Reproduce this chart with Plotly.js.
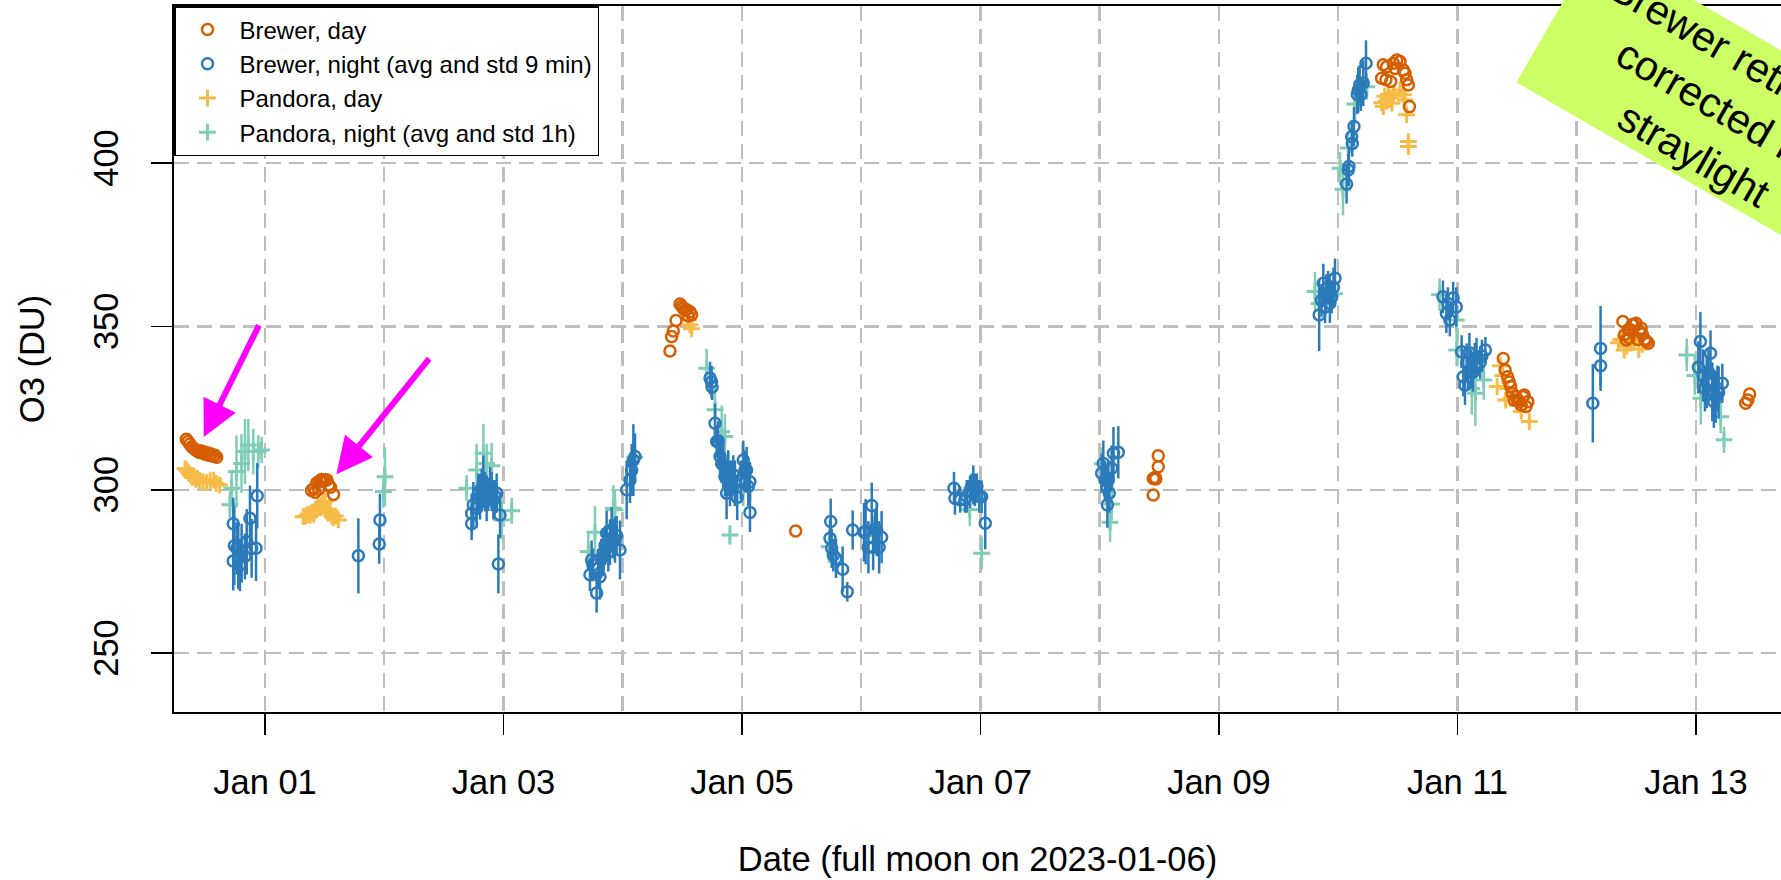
<!DOCTYPE html>
<html>
<head>
<meta charset="utf-8">
<script src="https://cdn.plot.ly/plotly-3.0.1.min.js"></script>
<style>
html,body{margin:0;padding:0;background:#fff;overflow:hidden;}
#chart{width:1781px;height:880px;}
</style>
</head>
<body>
<div id="chart"></div>
<script>
// Time is given in days since 2023-01-01 00:00 UTC
const brewerDayT = [
-0.66,-0.645,-0.63,-0.615,-0.60,-0.585,-0.57,-0.555,-0.54,-0.525,-0.51,-0.495,-0.48,-0.465,-0.45,-0.435,-0.42,-0.405,
0.39,0.41,0.42,0.435,0.45,0.46,0.475,0.49,0.505,0.52,0.535,0.55,0.575,
3.396,3.41,3.424,3.447,3.48,3.495,3.508,3.522,3.536,3.55,3.564,3.578,
4.45,
7.449,7.449,7.465,7.47,7.491,7.491,
9.364,9.378,9.40,9.406,9.44,9.462,9.476,9.49,9.518,9.546,9.56,9.574,9.588,9.597,
10.384,10.40,10.42,10.435,10.446,10.46,10.475,10.49,10.505,10.52,10.535,10.55,10.56,10.575,10.59,
11.387,11.40,11.416,11.43,11.44,11.45,11.465,11.48,11.497,11.51,11.525,11.54,11.55,11.57,11.585,11.6,
12.417,12.435,12.45];
const brewerDayO3 = [
315.5,314.8,314,313.2,312.8,312.3,312,311.5,312,311.2,311.6,310.8,311.3,310.5,311,310.3,310.6,310,
299.8,300.5,299.3,302.2,300.2,302.8,303.2,302.6,303.1,303,301.5,300.8,298.6,
342.5,346.9,348.6,351.8,356.9,356.2,355.6,355,355.1,353.2,354.5,353.6,
287.4,
298.4,303.5,303.8,303.3,307.1,310.4,
426,430.1,425.5,429.5,425,430.6,429,431.6,431.1,428.5,427.5,425.5,423.9,417.3,
340.2,336.7,334.6,333,331.6,329.6,327.5,328.5,327.5,327,326,328.5,329,325.5,327,
351.5,347.5,345.9,349,346.5,349,350.5,350.5,351,346,348.6,349.5,347.7,346,345.5,344.9,
326.5,327.5,329.3];

const brewerNightT = [
-0.266,-0.257,-0.266,-0.237,-0.224,-0.21,-0.196,-0.168,-0.153,-0.126,-0.112,-0.075,-0.065,
0.783,0.958,0.964,
1.733,1.733,1.747,1.775,1.789,1.803,1.817,1.831,1.845,1.859,1.873,1.887,1.901,1.915,1.929,1.943,1.971,1.957,
2.725,2.739,2.75,2.781,2.795,2.809,2.82,2.838,2.852,2.865,2.879,2.893,2.907,2.921,2.935,2.949,2.977,3.033,3.061,3.075,3.089,3.103,
3.732,3.745,3.75,3.774,3.788,3.80,3.816,3.83,3.843,3.857,3.871,3.885,3.899,3.913,3.927,3.941,3.96,3.99,4.011,4.025,4.039,4.053,4.067,4.067,
4.738,4.744,4.752,4.766,4.788,4.844,4.883,4.928,5.023,5.037,5.06,5.088,5.1,5.115,5.13,5.15,5.171,
5.778,5.786,5.83,5.87,5.885,5.912,5.926,5.94,5.954,5.97,5.99,6.01,6.04,
7.016,7.03,7.044,7.058,7.072,7.08,7.064,7.1,7.115,7.156,
8.84,8.86,8.875,8.89,8.9,8.915,8.93,8.945,8.96,8.973,
9.07,9.084,9.09,9.113,9.118,9.132,9.16,9.168,9.18,9.19,9.21,9.233,
9.878,9.907,9.92,9.936,9.964,9.99,10.035,10.049,10.063,10.077,10.09,10.1,10.115,10.13,10.145,10.16,10.19,10.205,10.234,
11.135,11.2,11.2,
12.02,12.037,12.06,12.075,12.09,12.105,12.122,12.137,12.15,12.165,12.18,12.19,12.221];
const brewerNightO3 = [
289.6,282.9,278.2,282.1,279.6,277,280.6,279.6,284.1,291.3,282.1,282.1,298.2,
279.8,283.4,290.8,
289.6,292.8,295.4,294.4,299,297.9,300.5,302.5,299.5,297.4,298.5,301,299.5,296.9,298,299,292.3,277.3,
274,278.5,277,268.4,276,273.4,279,280.6,283,286.7,281,284,287.7,285,284.7,286,281.6,300,303,306.1,309.1,310.2,
334.2,333,331.5,320.4,314.8,315,310.2,308,307.6,304,299,305.1,302,303,304.6,302,297.7,303,309.1,306,306.1,301,302.5,293.1,
285.2,290.3,282.1,280,279,275.7,268.8,287.7,287,287.2,282.4,295.2,282.4,288,287.7,282.4,285.5,
300.5,297.4,297,297,298,299.4,301,301.5,300,301,298,297.9,289.8,
305.1,308.1,303,301,303,299,295.4,306.6,311.2,311.5,
353.5,358,363.2,356,360,362,357.1,359,362,364.8,
393.6,397.9,399,408.1,406,411.2,421,422.4,424,421,424.5,430.6,
359.1,354,357,352,358.7,356,342.3,334.6,332,338.8,336,342,337,336,340,340.5,339,341,342.8,
326.5,343.3,338,
337.5,345.4,335,331,333,336,341.8,330,327,328.5,331,329.8,332.6];
const brewerNightStd = [
8,12,9,8,10,8,9,7,10,10,9,10,10,
11.5,6,8,
5,6,7,6,6,7,6,8,6,7,5,6,6,6,5,6,7,9,
5,6,5,6,6,7,6,7,6,7,6,7,7,6,7,6,9,9,7,8,11,7,
5,5,4,6,5,6,6,6,7,6,8,7,7,6,6,7,7,6,6,6,7,6,6,6,
6,7,6,5,6,7,3,6,9,10,8,7,7,6,8,8,8,
5,5,4,4,5,5,4,6,5,4,5,5,8,
6,7,6,5,6,6,7,7,8,8,
11,5,6,5,6,5,6,5,6,6,
6,5,6,5,4,6,6,7,6,5,7,7,
5,6,5,5,5,6,5,6,6,6,5,6,6,6,5,6,5,5,4,
12,13,6,
8,9,8,7,8,7,7,9,8,8,7,8,6];

const pandoraDayT = [
-0.67,-0.655,-0.64,-0.625,-0.61,-0.595,-0.58,-0.565,-0.55,-0.52,-0.49,-0.46,-0.43,-0.41,-0.38,
0.32,0.34,0.36,0.377,0.395,0.41,0.425,0.433,0.445,0.46,0.475,0.49,0.503,0.515,0.531,0.545,0.56,0.573,0.59,0.615,
3.55,3.564,3.578,
9.364,9.378,9.39,9.405,9.42,9.435,9.45,9.465,9.518,9.546,9.56,9.574,9.588,9.588,
10.333,10.36,10.38,10.404,10.42,10.45,10.5,10.535,10.603,
11.35,11.37,11.398,11.42,11.45,11.48,11.52,11.55];
const pandoraDayO3 = [
306.5,306,305.2,304.5,303.8,304.2,303.2,303.5,302.8,302.5,302.2,302.8,303,302,301.5,
291.8,292,292.5,292.2,293,292.5,294,293.8,295,294.5,295.4,296,296.5,294,292.8,293.5,292,291.4,292,290.8,
352,350.5,349.3,
418.5,417.3,420.5,419,421,420,418.3,421.5,422.4,420.9,419.3,414.8,406.6,405.1,
331.6,338,335,327.5,331,328,326,324,320.9,
345,346,342.8,344,345.5,346,343,344.5];

const pandoraNightT = [
-0.294,-0.28,-0.239,-0.197,-0.168,-0.14,-0.098,-0.056,-0.028,
0.993,1.006,
1.691,1.775,1.831,1.859,1.901,1.985,2.069,
2.711,2.767,2.921,2.935,3.1,
3.704,3.774,3.83,3.857,3.899,4.011,
4.73,5.1,
5.91,6.01,
7.02,7.1,7.087,
8.805,8.84,8.97,
9.015,9.04,9.084,9.14,9.24,
9.85,9.99,9.993,10.12,10.15,10.22,
11.923,11.99,12.04,12.207,12.235];
const pandoraNightO3 = [
295.4,300.5,305.6,308.1,311.7,313.7,311.7,311.7,312.2,
299.5,304,
300.5,306.1,311.2,308.1,307.4,290.8,293.6,
281.1,287,294.4,293.9,310,
337.2,324.5,317.8,316.3,286.2,301,
282.6,286,
294,280.6,
308,295.7,290.1,
360.7,357,360,
398.4,392,404.6,418.1,423.4,
359.7,352,342.8,331,329.6,333.6,
341.3,335,328,322.4,315.3];
const pandoraNightStd = [
4,5,11,9,10,8,7,5,4,
5,9,
4,8,9,6,7,6,4,
6,8,7,6,6,
6,7,8,7,3,6,
5,6,
5,5,
5,5,6,
6,5,4,
5,8,5,6,4,
5,4,5,8,10,6,
5,6,8,5,4];

const seriesNames = ['Brewer, day','Brewer, night (avg and std 9 min)','Pandora, day','Pandora, night (avg and std 1h)'];
const xTitle = 'Date (full moon on 2023-01-06)';
const yTitle = 'O3 (DU)';
const yTicks = [250,300,350,400];
const noteText = 'Brewer retrievals<br>corrected for<br>straylight';

const DAY = 86400000, T0 = Date.UTC(2023,0,1);
function toDate(d){ return new Date(T0 + d*DAY).toISOString().slice(0,19).replace('T',' '); }
const dates = a => a.map(toDate);

const C_BD = '#D55E00', C_BN = '#2B7BBA', C_PD = '#F7BC48', C_PN = '#7FCDB7';
const FONT = 'Liberation Sans, Arial, Helvetica, sans-serif';

const traces = [
  {type:'scatter', mode:'markers', name:seriesNames[2], legendrank:3,
   x:dates(pandoraDayT), y:pandoraDayO3,
   marker:{symbol:'cross-thin-open', size:12, color:C_PD, line:{color:C_PD, width:3}}},
  {type:'scatter', mode:'markers', name:seriesNames[3], legendrank:4,
   x:dates(pandoraNightT), y:pandoraNightO3,
   error_y:{type:'data', array:pandoraNightStd, visible:true, color:C_PN, thickness:2.5, width:0},
   marker:{symbol:'cross-thin-open', size:12, color:C_PN, line:{color:C_PN, width:3}}},
  {type:'scatter', mode:'markers', name:seriesNames[0], legendrank:1,
   x:dates(brewerDayT), y:brewerDayO3,
   marker:{symbol:'circle-open', size:11, color:C_BD, line:{color:C_BD, width:2.5}}},
  {type:'scatter', mode:'markers', name:seriesNames[1], legendrank:2,
   x:dates(brewerNightT), y:brewerNightO3,
   error_y:{type:'data', array:brewerNightStd, visible:true, color:C_BN, thickness:2.5, width:0},
   marker:{symbol:'circle-open', size:11, color:C_BN, line:{color:C_BN, width:2.5}}}
];

const GRID = '#BEBEBE';
const layout = {
  width:1781, height:880,
  margin:{l:174, r:0, t:6, b:168},
  paper_bgcolor:'#fff', plot_bgcolor:'#fff',
  font:{family:FONT, color:'#000', size:34.5},
  showlegend:true,
  legend:{x:0, y:1, xanchor:'left', yanchor:'top', bgcolor:'#fff', bordercolor:'#000', borderwidth:1.5,
          font:{family:FONT, size:24, color:'#000'}, tracegroupgap:0, itemwidth:54},
  xaxis:{type:'date', range:[toDate(-0.763), toDate(12.713)],
         tick0:'2023-01-01', dtick:2*DAY, tickformat:'%b %d',
         ticks:'outside', ticklen:21, tickwidth:1.5, tickcolor:'#000',
         showline:true, linecolor:'#000', linewidth:2, mirror:true,
         showgrid:true, gridcolor:GRID, gridwidth:2.5, griddash:'15px,8px', zeroline:false,
         minor:{tick0:'2023-01-01', dtick:DAY, showgrid:true, gridcolor:GRID, gridwidth:2.5, griddash:'15px,8px', ticks:''},
         tickfont:{size:34.5}, ticklabelstandoff:18, automargin:false,
         title:{text:xTitle, font:{size:34.5}, standoff:46}},
  yaxis:{range:[232.0, 448.1], tickvals:yTicks, ticktext:yTicks.map(String), tickangle:-90,
         ticks:'outside', ticklen:21, tickwidth:1.5, tickcolor:'#000',
         showline:true, linecolor:'#000', linewidth:2, mirror:false,
         showgrid:true, gridcolor:GRID, gridwidth:2.5, griddash:'15px,8px', zeroline:false,
         tickfont:{size:34.5}, ticklabelstandoff:19, automargin:false,
         title:{text:yTitle, font:{size:34.5}, standoff:32}},
  annotations:[
    {x:toDate(-0.514), y:316.2, xref:'x', yref:'y', ax:56, ay:-113, axref:'pixel', ayref:'pixel',
     text:'', showarrow:true, arrowhead:2, arrowsize:1.2, arrowwidth:6, arrowcolor:'#FF00FF', standoff:0},
    {x:toDate(0.599), y:304.8, xref:'x', yref:'y', ax:94, ay:-117, axref:'pixel', ayref:'pixel',
     text:'', showarrow:true, arrowhead:2, arrowsize:1.2, arrowwidth:6, arrowcolor:'#FF00FF', standoff:0},
    {x:(1721-174)/1607, y:(712-108)/706, xref:'paper', yref:'paper', xanchor:'center', yanchor:'middle',
     text:noteText, showarrow:false, textangle:30, bgcolor:'#CCFF66', borderwidth:0, borderpad:0,
     width:380, height:160, font:{family:FONT, size:41.5, color:'#000'}, align:'center'}
  ]
};

Plotly.newPlot('chart', traces, layout, {displayModeBar:false, staticPlot:true});
</script>
</body>
</html>
